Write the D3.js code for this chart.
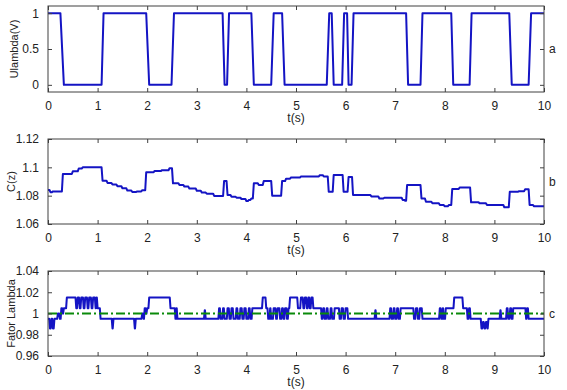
<!DOCTYPE html>
<html>
<head>
<meta charset="utf-8">
<script src="https://cdn.jsdelivr.net/npm/d3@7"></script>
<style>
  body { margin: 0; background: #fff; }
  svg { display: block; font-family: "Liberation Sans", Arial, sans-serif; }
</style>
</head>
<body>
<div id="chart"></div>
<script>
// panel a: Ulambda(V), switching signal
const timeA = [0, 0.25, 0.32, 1.08, 1.12, 1.98, 2.04, 2.49, 2.54, 3.52, 3.56, 3.61, 3.65, 4.1, 4.15,
  4.5, 4.55, 4.72, 4.77, 5.62, 5.67, 5.72, 5.76, 5.93, 5.97, 6.03, 6.06, 6.12, 6.16, 7.22, 7.26,
  7.51, 7.55, 8.13, 8.17, 8.5, 8.54, 9.3, 9.35, 9.69, 9.74, 10];
const uLambda = [1, 1, 0, 0, 1, 1, 0, 0, 1, 1, 0, 0, 1, 1, 0,
  0, 1, 1, 0, 0, 1, 1, 0, 0, 1, 1, 0, 0, 1, 1, 0,
  0, 1, 1, 0, 0, 1, 1, 0, 0, 1, 1];

// panel b: C(z), steps
const timeB = [0, 0.05, 0.1, 0.3, 0.5, 0.62, 0.7, 1.1, 1.2, 1.3, 1.4, 1.5, 1.6, 1.7, 1.8, 1.9,
  1.98, 2.15, 2.3, 2.45, 2.52, 2.65, 2.75, 2.85, 3.0, 3.1, 3.2, 3.35, 3.55, 3.62, 3.7, 3.8, 3.9,
  4.0, 4.05, 4.1, 4.15, 4.25, 4.35, 4.52, 4.72, 4.8, 4.9, 5.1, 5.48, 5.56, 5.66, 5.76, 5.96, 6.06,
  6.15, 6.52, 6.68, 6.78, 7.15, 7.2, 7.24, 7.53, 7.62, 7.75, 7.9, 8.0, 8.08, 8.15, 8.3, 8.53, 8.7,
  8.85, 9.2, 9.31, 9.5, 9.62, 9.71, 9.8, 10];
const cz = [1.084, 1.0825, 1.083, 1.0953, 1.0972, 1.0992, 1.1, 1.0905, 1.089, 1.0878, 1.0866, 1.0852, 1.0836, 1.0826, 1.083, 1.0838,
  1.0965, 1.0975, 1.098, 1.0993, 1.0887, 1.0875, 1.0864, 1.085, 1.0835, 1.0822, 1.0814, 1.0798, 1.0903, 1.0805, 1.0793, 1.0786, 1.0776,
  1.0762, 1.077, 1.078, 1.0887, 1.0875, 1.0903, 1.08, 1.0903, 1.092, 1.0929, 1.0935, 1.0945, 1.0935, 1.0828, 1.0946, 1.0828, 1.0932,
  1.0805, 1.0795, 1.078, 1.0785, 1.077, 1.0765, 1.0875, 1.078, 1.0757, 1.0746, 1.0734, 1.0725, 1.0734, 1.0847, 1.0858, 1.0753, 1.0746,
  1.0734, 1.0718, 1.0828, 1.0832, 1.0845, 1.0734, 1.0725, 1.0725];

// panel c: Fator Lambda, steps, and its reference
const timeC = [0, 0.04, 0.07, 0.1, 0.13, 0.2, 0.24, 0.27, 0.3, 0.32, 0.38,
  0.57, 0.6, 0.64, 0.67, 0.72, 0.75, 0.8, 0.83, 0.88, 0.91, 0.96, 0.98, 1.0, 1.06,
  1.3, 1.32, 1.75, 1.77, 1.9, 1.93, 1.95, 1.98, 2.0, 2.04, 2.47, 2.57, 2.59, 2.61,
  3.16, 3.18, 3.45, 3.48, 3.53, 3.56, 3.62, 3.66, 3.7, 3.74, 3.8, 3.83, 3.88, 3.92, 3.96, 4.0, 4.05, 4.08, 4.12,
  4.33, 4.4, 4.44, 4.48, 4.5, 4.55, 4.6, 4.63, 4.68, 4.72, 4.75, 4.78, 4.82, 4.85,
  4.88, 5.04, 5.1, 5.15, 5.18, 5.22, 5.25, 5.28, 5.31, 5.35, 5.52, 5.55, 5.58, 5.62, 5.65, 5.7, 5.73, 5.78,
  5.88, 5.92, 5.96, 6.0, 6.05, 6.6, 6.62, 6.9, 6.93, 6.97, 7.0, 7.04, 7.07, 7.11, 7.38, 7.42, 7.46, 7.5, 7.55,
  7.9, 7.93, 7.96, 7.98, 8.02, 8.19, 8.37, 8.46, 8.49, 8.52, 8.74, 8.77, 8.8, 8.83, 8.86, 8.88,
  9.12, 9.14, 9.25, 9.28, 9.32, 9.35, 9.38, 9.64, 9.66, 9.69, 10];
const lambda = [0.995, 0.986, 0.995, 0.986, 0.995, 1.0, 0.995, 1.005, 1.0, 1.005, 1.015,
  1.005, 1.015, 1.005, 1.015, 1.005, 1.015, 1.005, 1.015, 1.005, 1.015, 1.005, 1.015, 1.005, 0.995,
  0.986, 0.995, 0.986, 0.995, 1.0, 0.995, 1.005, 1.0, 1.005, 1.015, 1.005, 0.995, 1.005, 0.995,
  1.003, 0.995, 1.005, 0.995, 1.005, 0.995, 1.005, 0.995, 1.005, 0.995, 1.005, 0.995, 1.005, 0.995, 1.005, 0.995, 1.005, 0.995, 1.005,
  1.015, 1.005, 0.995, 1.005, 0.995, 1.005, 0.995, 1.005, 0.995, 1.005, 0.995, 1.005, 0.995, 1.005,
  1.015, 1.005, 1.015, 1.005, 1.015, 1.005, 1.015, 1.005, 1.015, 1.005, 0.995, 1.005, 0.995, 1.005, 0.995, 1.005, 0.995, 1.005,
  0.995, 1.005, 0.995, 1.005, 0.995, 1.003, 0.995, 1.005, 0.995, 1.005, 0.995, 1.005, 0.995, 1.005, 0.995, 1.005, 0.995, 1.005, 0.995,
  1.005, 0.995, 1.005, 0.995, 1.005, 1.015, 1.005, 0.995, 1.005, 0.995, 0.986, 0.992, 0.986, 0.992, 0.986, 0.995,
  1.003, 0.995, 1.005, 0.995, 1.005, 0.995, 1.005, 0.995, 1.005, 0.995, 0.995];
const lambdaRef = [1, 1];

const xTicks = [0, 1, 2, 3, 4, 5, 6, 7, 8, 9, 10];
const ticksA = [0, 0.5, 1];
const ticksB = [1.06, 1.08, 1.1, 1.12];
const ticksC = [0.96, 0.98, 1, 1.02, 1.04];

const width = 567, height = 390;
const left = 48, right = 544;
const blue = "#1414c4", green = "#0a8a0a", axisColor = "#404040";

const svg = d3.select("#chart").append("svg")
  .attr("width", width)
  .attr("height", height);

const x = d3.scaleLinear().domain([0, 10]).range([left, right]);

// step held until shortly before the next sample, then a short ramp (like a sampled plot)
function ramped(t, v, ramp) {
  const pts = [];
  t.forEach((ti, i) => {
    pts.push([ti, v[i]]);
    if (i < t.length - 1) {
      const hold = t[i + 1] - ramp;
      if (hold > ti) pts.push([hold, v[i]]);
    }
  });
  return pts;
}

function panel(opts) {
  const y = d3.scaleLinear().domain(opts.domain).range([opts.bottom, opts.top]);
  const g = svg.append("g");

  opts.series.forEach(s => {
    const line = d3.line()
      .x(d => x(d[0]))
      .y(d => y(d[1]));
    const pts = s.ramp ? ramped(s.t, s.v, s.ramp) : d3.zip(s.t, s.v);
    g.append("path")
      .datum(pts)
      .attr("fill", "none")
      .attr("stroke", s.color)
      .attr("stroke-width", 2)
      .attr("stroke-dasharray", s.dash || null)
      .attr("stroke-linejoin", "round")
      .attr("d", line);
  });

  g.append("rect")
    .attr("x", left).attr("y", opts.top)
    .attr("width", right - left).attr("height", opts.bottom - opts.top)
    .attr("fill", "none").attr("stroke", axisColor).attr("stroke-width", 1);

  // inward ticks on all four sides
  g.append("g").attr("transform", `translate(0,${opts.bottom})`)
    .call(d3.axisBottom(x).tickValues(xTicks).tickSizeInner(-4).tickSizeOuter(0).tickPadding(9).tickFormat(d3.format("d")));
  g.append("g").attr("transform", `translate(0,${opts.top})`)
    .call(d3.axisTop(x).tickValues(xTicks).tickSizeInner(-4).tickSizeOuter(0).tickFormat(""));
  g.append("g").attr("transform", `translate(${left},0)`)
    .call(d3.axisLeft(y).tickValues(opts.ticks).tickSizeInner(-4).tickSizeOuter(0).tickPadding(9).tickFormat(opts.format));
  g.append("g").attr("transform", `translate(${right},0)`)
    .call(d3.axisRight(y).tickValues(opts.ticks).tickSizeInner(-4).tickSizeOuter(0).tickFormat(""));

  g.selectAll(".domain").remove();
  g.selectAll(".tick line").attr("stroke", axisColor);
  g.selectAll(".tick text")
    .attr("fill", "#222")
    .style("font-size", "12px")
    .style("font-family", "'Liberation Sans', Arial, sans-serif");

  const mid = (opts.top + opts.bottom) / 2;
  g.append("text")
    .attr("transform", `translate(${opts.ylabelX},${mid}) rotate(-90)`)
    .attr("text-anchor", "middle")
    .attr("dy", "0.35em")
    .attr("fill", "#222")
    .style("font-size", "11px")
    .text(opts.ylabel);
  g.append("text")
    .attr("x", (left + right) / 2)
    .attr("y", opts.bottom + 30)
    .attr("text-anchor", "middle")
    .attr("fill", "#222")
    .style("font-size", "12px")
    .text("t(s)");
  g.append("text")
    .attr("x", 549)
    .attr("y", mid)
    .attr("dy", "0.35em")
    .attr("fill", "#222")
    .style("font-size", "12px")
    .text(opts.tag);
}

panel({
  top: 6, bottom: 92, domain: [-0.1, 1.1], ticks: ticksA,
  format: d => d === 0.5 ? "0.5" : d3.format("d")(d),
  ylabel: "Ulambda(V)", ylabelX: 14, tag: "a",
  series: [{ t: timeA, v: uLambda, color: blue }]
});

panel({
  top: 139, bottom: 224, domain: [1.06, 1.12], ticks: ticksB,
  format: d => d === 1.1 ? "1.1" : d3.format(".2f")(d),
  ylabel: "C(z)", ylabelX: 11, tag: "b",
  series: [{ t: timeB, v: cz, color: blue, ramp: 0.02 }]
});

panel({
  top: 271, bottom: 356, domain: [0.96, 1.04], ticks: ticksC,
  format: d => d === 1 ? "1" : d3.format(".2f")(d),
  ylabel: "Fator Lambda", ylabelX: 11, tag: "c",
  series: [
    { t: timeC, v: lambda, color: blue, ramp: 0.015 },
    { t: [0, 10], v: lambdaRef, color: green, dash: "9,3,2,3" }
  ]
});
</script>
</body>
</html>
